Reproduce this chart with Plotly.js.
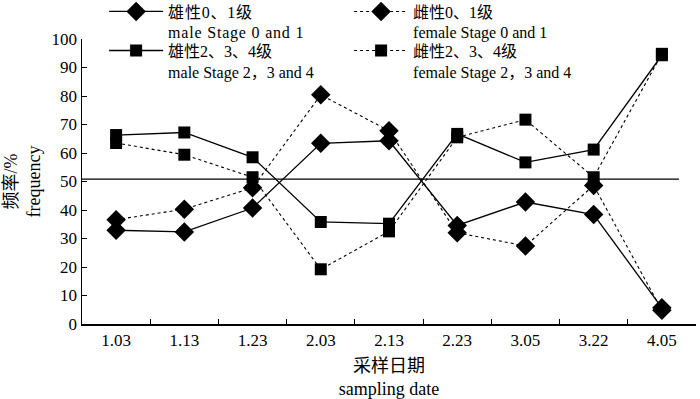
<!DOCTYPE html>
<html><head><meta charset="utf-8">
<script src="https://cdn.plot.ly/plotly-3.0.1.min.js"></script>
<style>html,body{margin:0;padding:0;background:#fff;} .legendtext{letter-spacing:0.8px;}</style>
</head><body>
<div id="chart" style="width:700px;height:399px;"></div>
<script>
const dates = ["1.03","1.13","1.23","2.03","2.13","2.23","3.05","3.22","4.05"];
const maleStage01 = [32.9, 32.3, 40.7, 63.4, 64.3, 34.6, 42.8, 38.4, 5.7];
const femaleStage01 = [36.6, 40.3, 47.8, 80.4, 67.8, 32.0, 27.4, 48.6, 4.8];
const maleStage234 = [66.3, 67.2, 58.5, 35.8, 35.2, 66.7, 56.7, 61.2, 94.3];
const femaleStage234 = [63.5, 59.4, 51.5, 19.2, 32.5, 65.5, 71.7, 51.5, 94.8];
const names = [
  "雄性0、1级<br>male Stage 0 and 1",
  "雌性0、1级<br>female Stage 0 and 1",
  "雄性2、3、4级<br>male Stage 2，3 and 4",
  "雌性2、3、4级<br>female Stage 2，3 and 4"
];
const refLine = 50.8;
const yTicks = [0,10,20,30,40,50,60,70,80,90,100];

const FONT = "'Liberation Serif', 'Times New Roman', 'Noto Sans CJK SC', serif";
const legendIds = ['legend', 'legend2', 'legend3', 'legend4'];
function tr(y, name, symbol, dash, size, li) {
  return {
    x: dates, y: y, name: name, type: 'scatter', mode: 'lines+markers',
    legend: legendIds[li],
    line: {color: '#000', width: dash === 'solid' ? 1.3 : 1.1, dash: dash},
    marker: {symbol: symbol, size: size, color: '#000'}
  };
}
const data = [
  tr(maleStage01, names[0], 'diamond', 'solid', 15, 0),
  tr(femaleStage01, names[1], 'diamond', 'dot', 15, 1),
  tr(maleStage234, names[2], 'square', 'solid', 12, 2),
  tr(femaleStage234, names[3], 'square', 'dot', 12, 3)
];
function leg(x, y) {
  return {x: x, y: y, xanchor: 'left', yanchor: 'top', valign: 'top',
    bgcolor: 'rgba(0,0,0,0)', itemwidth: 54,
    font: {family: FONT, size: 16, color: '#000'}};
}
const layout = {
  width: 700, height: 399,
  margin: {l: 82, r: 4, t: 39, b: 75, autoexpand: false},
  paper_bgcolor: '#fff', plot_bgcolor: '#fff',
  font: {family: FONT, size: 17, color: '#000'},
  showlegend: true,
  legend: leg(0.036, 1.156),
  legend2: leg(0.435, 1.156),
  legend3: leg(0.036, 1.019),
  legend4: leg(0.435, 1.019),
  xaxis: {
    type: 'category', range: [-0.5, 8.5], tickson: 'boundaries',
    ticks: 'inside', ticklen: 5, tickcolor: '#000', tickwidth: 1,
    showline: true, linecolor: '#000', linewidth: 1.5, showgrid: false, zeroline: false,
    tickfont: {family: FONT, size: 17},
    title: {text: "采样日期<br>sampling date", font: {family: FONT, size: 18}, standoff: 10}
  },
  yaxis: {
    range: [0, 100], tickvals: yTicks, ticks: 'inside', ticklen: 5, tickcolor: '#000',
    showline: true, linecolor: '#000', linewidth: 1.5, showgrid: false, zeroline: false,
    tickfont: {family: FONT, size: 17},
    title: {text: "频率/%<br>frequency", font: {family: FONT, size: 18}, standoff: 6}
  },
  shapes: [{type: 'line', xref: 'x', yref: 'y', x0: -0.5, x1: 8.25, y0: refLine, y1: refLine,
    line: {color: '#000', width: 1.3}}]
};
Plotly.newPlot('chart', data, layout, {displayModeBar: false, staticPlot: true});
</script>
</body></html>
